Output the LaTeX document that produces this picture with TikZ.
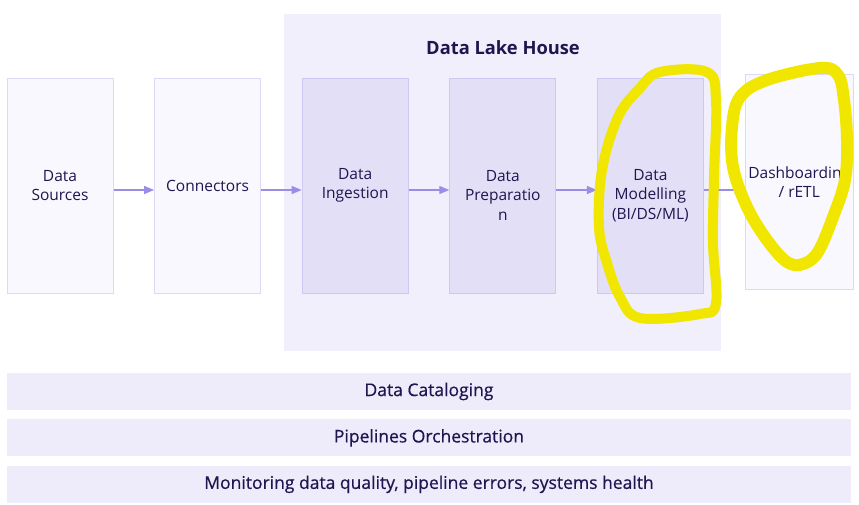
\documentclass[tikz,border=0pt]{standalone}
\usepackage{fontspec}
\setmainfont{Open Sans}
\newfontfamily\barfont[FakeBold=0.5]{Open Sans}
\usetikzlibrary{positioning,arrows.meta}
\definecolor{InkColor}{HTML}{1F1650}
\definecolor{EdgeColor}{HTML}{9A8DE6}
\definecolor{OuterFill}{HTML}{F9F8FE}
\definecolor{OuterLine}{HTML}{DCD8F5}
\definecolor{InnerFill}{HTML}{E3DFF7}
\definecolor{InnerLine}{HTML}{CFC9F2}
\definecolor{LakeFill}{HTML}{F1EFFB}
\definecolor{BarFill}{HTML}{EEEBFA}
\definecolor{MarkerYellow}{HTML}{F0E600}

\begin{document}
\begin{tikzpicture}[x=1pt,y=-1pt]
			\tikzstyle{OuterStyle} = [shape=rectangle, minimum width=106pt, minimum height=215pt, fill=OuterFill, draw=OuterLine, line width=1pt, text=InkColor, align=center, font=\fontsize{15.5}{19.5}\selectfont]
			\tikzstyle{InnerStyle} = [OuterStyle, fill=InnerFill, draw=InnerLine]
			\tikzstyle{BarStyle}   = [shape=rectangle, minimum width=844pt, minimum height=37pt, fill=BarFill, text=InkColor, font=\barfont\fontsize{17.5}{19}\selectfont]
			\tikzstyle{EdgeStyle}  = [-{Triangle[length=10pt,width=8pt]}, draw=EdgeColor, fill=EdgeColor, line width=1.3pt]
			\tikzstyle{MarkStyle}  = [draw=MarkerYellow, line cap=round, line join=round]
			
			\useasboundingbox (0,0) rectangle (859,504);
			\node[fill=LakeFill, minimum width=437pt, minimum height=337pt] (Lake) at (502.5,182.5) {};
			\node[text=InkColor, font=\fontsize{18.3}{20}\bfseries] (Title) at (503,48) {Data Lake House};
			
			\node[OuterStyle] (Sources) at (60,185.5) {Data\\Sources};
			\node[OuterStyle, right=40.6pt of Sources] (Connectors) {Connectors};
			\node[InnerStyle, right=40.6pt of Connectors] (Ingestion) {Data\\Ingestion};
			\node[InnerStyle, right=40.6pt of Ingestion] (Preparation) {\mbox{}\\[11pt]Data\\Preparatio\\n};
			\node[InnerStyle, right=40.6pt of Preparation] (Modelling) {\mbox{}\\[11pt]Data\\Modelling\\(BI/DS/ML)};
			\node[OuterStyle, right=40.6pt of Modelling, yshift=3.5pt] (Dashboarding) {Dashboarding\\/ rETL};
			
			\draw[EdgeStyle] ([yshift=-4.5pt]Sources.east) -- ([yshift=-4.5pt]Connectors.west);
			\draw[EdgeStyle] ([yshift=-4.5pt]Connectors.east) -- ([yshift=-4.5pt]Ingestion.west);
			\draw[EdgeStyle] ([yshift=-4.5pt]Ingestion.east) -- ([yshift=-4.5pt]Preparation.west);
			\draw[EdgeStyle] ([yshift=-4.5pt]Preparation.east) -- ([yshift=-4.5pt]Modelling.west);
			\draw[EdgeStyle] ([yshift=-4.5pt]Modelling.east) -- ([yshift=-4.5pt]Modelling.east -| Dashboarding.west);
			
			\node[BarStyle] (Cataloging) at (429,391.5) {Data Cataloging};
			\node[BarStyle, below=9pt of Cataloging] (Orchestration) {Pipelines Orchestration};
			\node[BarStyle, below=9pt of Orchestration] (Monitoring) {Monitoring data quality, pipeline errors, systems health};
			
			% highlighter loops
			\draw[MarkStyle, line width=10pt] plot[smooth cycle, tension=0.6] coordinates {(660,72) (707,72) (716,100) (714,177) (713,243) (716,303) (700,314) (640,318) (620,297) (607,263) (599,227) (602,170) (618,117) (640,88)};
			\draw[MarkStyle, line width=12pt] plot[smooth cycle, tension=0.6] coordinates {(820,68) (767,80) (740,97) (732,127) (733,167) (747,207) (767,240) (787,262) (803,264) (818,252) (833,217) (845,180) (847,140) (844,100) (838,75)};
		\end{tikzpicture}
\end{document}
